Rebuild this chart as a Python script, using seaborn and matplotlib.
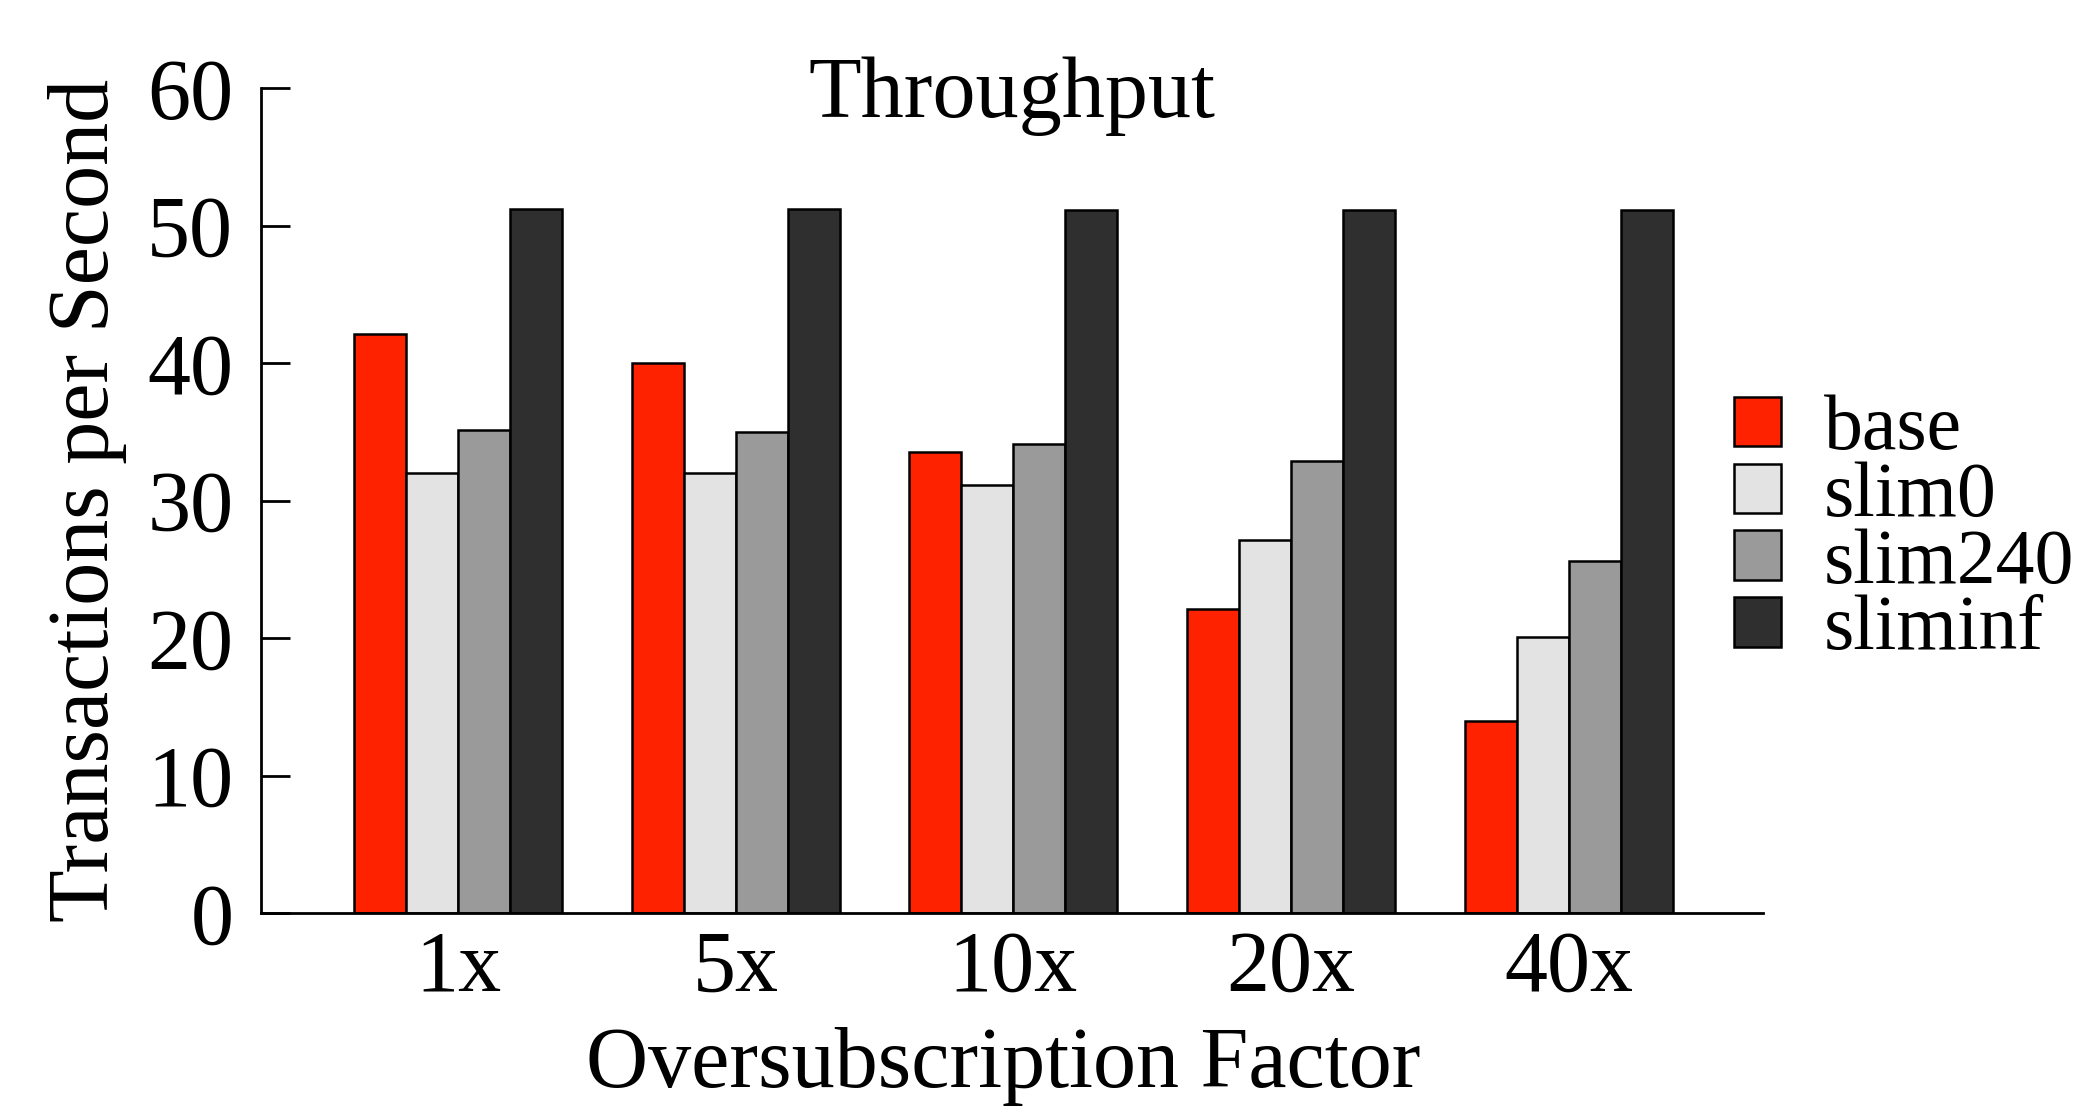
# Throughput bar chart recreation
import pandas as pd
import matplotlib
matplotlib.use('Agg')
import matplotlib.pyplot as plt
import seaborn as sns

# Data
factors = ['1x', '5x', '10x', '20x', '40x']
systems = ['base', 'slim0', 'slim240', 'sliminf']
base = [42.1, 40.0, 33.5, 22.1, 14.0]
slim0 = [32.0, 32.0, 31.1, 27.1, 20.1]
slim240 = [35.1, 35.0, 34.1, 32.9, 25.6]
sliminf = [51.2, 51.2, 51.1, 51.1, 51.1]
colors = ['#ff2200', '#e3e3e3', '#9a9a9a', '#2f2f2f']

rows = []
for name, vals in zip(systems, [base, slim0, slim240, sliminf]):
    for f, v in zip(factors, vals):
        rows.append({'factor': f, 'system': name, 'tps': v})
dados = pd.DataFrame(rows)

sns.set_style('white')
plt.rcParams['font.family'] = ['Liberation Serif', 'DejaVu Serif']
plt.rcParams['font.size'] = 62
for k in ['text.color', 'axes.labelcolor', 'xtick.color', 'ytick.color']:
    plt.rcParams[k] = 'black'

fig = plt.figure(figsize=(21, 11.06), dpi=100)
ax = fig.add_axes([0.1243, 0.1745, 0.8395 - 0.1243, 0.9204 - 0.1745])

sns.barplot(data=dados, x='factor', y='tps', hue='system', order=factors,
            hue_order=systems, palette=colors, width=0.75, gap=0,
            edgecolor='black', linewidth=1.8, saturation=1, ax=ax)

ax.set_xlim(-0.71, 4.70)
ax.set_ylim(0, 60)
ax.set_yticks(range(0, 61, 10))

for s in ['top', 'right']:
    ax.spines[s].set_visible(False)
for s in ['left', 'bottom']:
    ax.spines[s].set_linewidth(2.0)
    ax.spines[s].set_color('black')

ax.tick_params(axis='y', left=True, direction='in', length=21, width=2.0,
               pad=20, labelsize=62)
ax.tick_params(axis='x', bottom=False, length=0, pad=12, labelsize=62)

ax.text(0.5, 0.99, 'Throughput', transform=ax.transAxes, ha='center',
        va='center', fontsize=62)
ax.set_ylabel('Transactions per Second', fontsize=62)
ax.set_xlabel('Oversubscription Factor', fontsize=62)
ax.yaxis.set_label_coords(-0.089, 0.5)
ax.xaxis.set_label_coords(0.494, -0.138)

ax.legend(loc='center left', bbox_to_anchor=(1734 / 2100, 0.5205),
          bbox_transform=fig.transFigure, frameon=False, fontsize=56,
          handlelength=0.6, handleheight=0.6, handletextpad=0.55,
          labelspacing=-0.06, borderpad=0, borderaxespad=0)

fig.savefig('out.png', dpi=100)
